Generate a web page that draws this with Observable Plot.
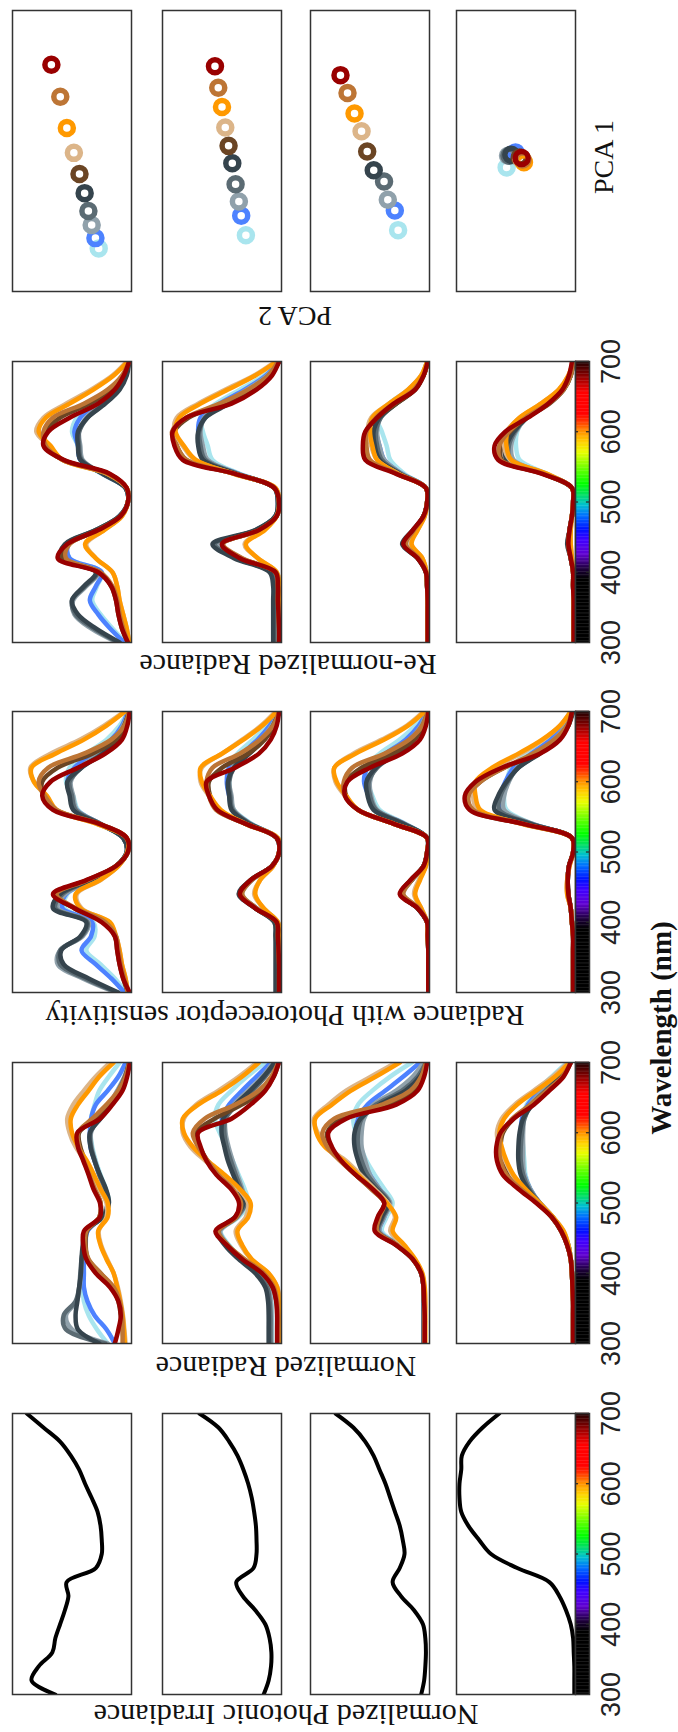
<!DOCTYPE html>
<html>
<head>
<meta charset="utf-8">
<script src="https://cdn.jsdelivr.net/npm/d3@7"></script>
<script src="https://cdn.jsdelivr.net/npm/@observablehq/plot@0.6"></script>
<style>
  body { margin: 0; background: #fff; }
  #fig { position: relative; width: 678px; height: 1732px; background: #fff; overflow: hidden; }
  .lab { position: absolute; white-space: nowrap; font-family: "Liberation Serif", "Times New Roman", serif; color: #111; line-height: 1; }
</style>
</head>
<body>
<div id="fig"></div>
<script>
// ---------- data ----------
const wavelengths = [300,320,340,360,380,400,420,440,460,480,500,520,540,560,580,600,620,640,660,680,700];
const wavelengthTicks = [300,400,500,600,700];
const colorbarTicks = [400,500,600];

const seriesKeys = ["darkRed","brown","orange","tan","darkBrown","darkSlate","slate","lightSlate","blue","lightCyan"];

// normalized photonic irradiance, one curve per habitat
const irradiance1 = [0.64,0.84,0.78,0.665,0.64,0.60,0.56,0.53,0.545,0.30,0.25,0.25,0.26,0.285,0.335,0.39,0.44,0.51,0.60,0.74,0.88];
const irradiance2 = [0.15,0.108,0.088,0.085,0.10,0.136,0.22,0.325,0.38,0.235,0.21,0.21,0.215,0.23,0.25,0.28,0.32,0.37,0.44,0.53,0.69];
const irradiance3 = [0.07,0.045,0.035,0.03,0.035,0.055,0.13,0.24,0.31,0.25,0.21,0.225,0.25,0.29,0.33,0.37,0.42,0.47,0.54,0.64,0.79];
const irradiance4 = [0.01,0.01,0.01,0.015,0.02,0.04,0.08,0.135,0.22,0.49,0.71,0.81,0.90,0.96,0.975,0.975,0.96,0.955,0.89,0.78,0.64];

// normalized radiance
const radiance1 = {
  darkRed:   [0.14,0.11,0.09,0.11,0.18,0.30,0.38,0.405,0.40,0.265,0.265,0.32,0.36,0.405,0.45,0.455,0.265,0.16,0.075,0.036,0.014],
  brown:     [0.075,0.075,0.08,0.10,0.15,0.26,0.36,0.39,0.38,0.27,0.26,0.31,0.355,0.40,0.44,0.45,0.33,0.21,0.11,0.05,0.02],
  orange:    [0.056,0.064,0.075,0.095,0.12,0.15,0.21,0.26,0.28,0.20,0.20,0.26,0.315,0.375,0.45,0.50,0.51,0.45,0.36,0.27,0.15],
  tan:       [0.05,0.06,0.072,0.09,0.115,0.15,0.205,0.255,0.275,0.21,0.21,0.27,0.33,0.39,0.47,0.52,0.54,0.49,0.40,0.30,0.18],
  darkBrown: [0.065,0.075,0.09,0.11,0.16,0.26,0.365,0.385,0.375,0.27,0.26,0.31,0.35,0.39,0.43,0.44,0.30,0.19,0.10,0.045,0.015],
  darkSlate: [0.27,0.45,0.47,0.455,0.44,0.425,0.42,0.41,0.39,0.24,0.19,0.215,0.265,0.31,0.345,0.35,0.26,0.17,0.10,0.05,0.02],
  slate:     [0.22,0.55,0.57,0.47,0.44,0.43,0.42,0.40,0.385,0.245,0.195,0.22,0.27,0.31,0.34,0.345,0.27,0.18,0.11,0.055,0.02],
  lightSlate:[0.20,0.50,0.55,0.46,0.435,0.425,0.415,0.395,0.38,0.25,0.20,0.225,0.27,0.305,0.335,0.34,0.28,0.19,0.12,0.06,0.02],
  blue:      [0.14,0.21,0.31,0.37,0.40,0.40,0.40,0.39,0.37,0.25,0.20,0.225,0.27,0.31,0.345,0.35,0.34,0.30,0.20,0.11,0.05],
  lightCyan: [0.20,0.29,0.36,0.40,0.41,0.41,0.40,0.385,0.37,0.25,0.19,0.215,0.26,0.30,0.33,0.345,0.34,0.31,0.27,0.19,0.10]
};
const radiance2 = {
  darkRed:   [0.037,0.037,0.037,0.045,0.074,0.164,0.33,0.46,0.555,0.39,0.357,0.425,0.547,0.63,0.68,0.70,0.42,0.26,0.136,0.065,0.023],
  brown:     [0.028,0.028,0.028,0.037,0.065,0.15,0.31,0.45,0.53,0.377,0.34,0.41,0.53,0.62,0.70,0.745,0.646,0.39,0.19,0.085,0.028],
  orange:    [0.017,0.017,0.017,0.023,0.037,0.108,0.25,0.33,0.37,0.28,0.26,0.35,0.476,0.62,0.745,0.82,0.83,0.70,0.50,0.33,0.19],
  tan:       [0.01,0.01,0.01,0.017,0.034,0.113,0.255,0.34,0.385,0.30,0.28,0.36,0.50,0.64,0.765,0.83,0.82,0.717,0.53,0.357,0.207],
  darkBrown: [0.034,0.034,0.034,0.042,0.074,0.159,0.32,0.453,0.538,0.385,0.348,0.419,0.538,0.623,0.686,0.717,0.561,0.334,0.15,0.065,0.023],
  darkSlate: [0.108,0.108,0.108,0.113,0.136,0.22,0.36,0.476,0.54,0.39,0.32,0.357,0.405,0.45,0.48,0.504,0.49,0.39,0.263,0.15,0.057],
  slate:     [0.093,0.093,0.093,0.10,0.12,0.207,0.35,0.46,0.527,0.377,0.306,0.34,0.385,0.425,0.46,0.48,0.47,0.377,0.244,0.136,0.051],
  lightSlate:[0.085,0.085,0.085,0.09,0.11,0.195,0.34,0.45,0.515,0.37,0.30,0.33,0.37,0.41,0.445,0.47,0.47,0.40,0.28,0.16,0.07],
  blue:      [0.09,0.09,0.09,0.095,0.115,0.20,0.345,0.455,0.52,0.375,0.305,0.335,0.38,0.425,0.47,0.50,0.50,0.44,0.33,0.21,0.09],
  lightCyan: [0.08,0.08,0.08,0.085,0.105,0.19,0.33,0.44,0.51,0.36,0.28,0.31,0.36,0.41,0.46,0.52,0.56,0.53,0.42,0.29,0.14]
};
const radiance3 = {
  darkRed:   [0.04,0.04,0.04,0.045,0.05,0.07,0.14,0.28,0.46,0.435,0.38,0.48,0.62,0.74,0.82,0.85,0.70,0.28,0.10,0.045,0.02],
  brown:     [0.04,0.04,0.04,0.045,0.05,0.07,0.14,0.27,0.44,0.42,0.38,0.49,0.62,0.75,0.86,0.90,0.80,0.40,0.16,0.07,0.03],
  orange:    [0.035,0.035,0.035,0.035,0.04,0.06,0.12,0.21,0.31,0.28,0.36,0.48,0.60,0.72,0.88,0.95,0.96,0.82,0.66,0.45,0.25],
  tan:       [0.04,0.04,0.04,0.04,0.045,0.065,0.13,0.22,0.33,0.29,0.35,0.46,0.58,0.70,0.86,0.94,0.97,0.85,0.70,0.49,0.28],
  darkBrown: [0.04,0.04,0.04,0.045,0.05,0.07,0.14,0.28,0.45,0.43,0.38,0.49,0.62,0.74,0.83,0.86,0.74,0.34,0.14,0.06,0.03],
  darkSlate: [0.045,0.045,0.045,0.045,0.05,0.07,0.14,0.27,0.44,0.40,0.35,0.45,0.55,0.60,0.63,0.63,0.58,0.42,0.20,0.08,0.02],
  slate:     [0.05,0.05,0.05,0.05,0.05,0.07,0.14,0.27,0.43,0.39,0.34,0.43,0.52,0.57,0.60,0.60,0.57,0.45,0.23,0.10,0.03],
  lightSlate:[0.05,0.05,0.05,0.05,0.05,0.07,0.13,0.26,0.42,0.38,0.33,0.42,0.50,0.54,0.57,0.57,0.55,0.47,0.28,0.14,0.05],
  blue:      [0.05,0.05,0.05,0.05,0.05,0.07,0.13,0.26,0.42,0.38,0.34,0.42,0.50,0.56,0.60,0.62,0.60,0.52,0.37,0.22,0.08],
  lightCyan: [0.05,0.05,0.05,0.05,0.05,0.07,0.13,0.25,0.40,0.36,0.31,0.38,0.46,0.53,0.58,0.62,0.64,0.60,0.48,0.33,0.15]
};
const radiance4 = {
  darkRed:   [0.02,0.02,0.02,0.02,0.025,0.03,0.04,0.07,0.12,0.20,0.33,0.48,0.61,0.66,0.665,0.63,0.52,0.35,0.22,0.10,0.04],
  brown:     [0.02,0.02,0.02,0.02,0.025,0.03,0.04,0.07,0.12,0.20,0.32,0.46,0.58,0.63,0.64,0.62,0.53,0.38,0.24,0.11,0.04],
  orange:    [0.02,0.02,0.02,0.02,0.025,0.03,0.04,0.06,0.10,0.19,0.30,0.42,0.52,0.58,0.62,0.64,0.60,0.49,0.33,0.17,0.05],
  tan:       [0.02,0.02,0.02,0.02,0.025,0.03,0.04,0.06,0.10,0.19,0.31,0.43,0.53,0.59,0.64,0.66,0.62,0.51,0.35,0.19,0.06],
  darkBrown: [0.02,0.02,0.02,0.02,0.025,0.03,0.04,0.07,0.12,0.20,0.32,0.46,0.57,0.62,0.63,0.61,0.52,0.37,0.23,0.11,0.04],
  darkSlate: [0.02,0.02,0.02,0.02,0.025,0.03,0.04,0.07,0.12,0.20,0.31,0.40,0.46,0.48,0.48,0.47,0.44,0.36,0.24,0.12,0.04],
  slate:     [0.02,0.02,0.02,0.02,0.025,0.03,0.04,0.06,0.11,0.19,0.30,0.39,0.44,0.46,0.46,0.45,0.43,0.37,0.25,0.13,0.04],
  lightSlate:[0.02,0.02,0.02,0.02,0.025,0.03,0.04,0.06,0.11,0.19,0.30,0.38,0.43,0.44,0.44,0.44,0.43,0.38,0.27,0.15,0.05],
  blue:      [0.02,0.02,0.02,0.02,0.025,0.03,0.04,0.06,0.11,0.19,0.30,0.38,0.43,0.45,0.46,0.46,0.45,0.40,0.30,0.18,0.06],
  lightCyan: [0.02,0.02,0.02,0.02,0.025,0.03,0.04,0.06,0.11,0.20,0.31,0.38,0.42,0.43,0.44,0.45,0.45,0.41,0.32,0.20,0.07]
};

// radiance weighted by photoreceptor sensitivity
const receptor1 = {
  darkRed:   [0.015,0.07,0.10,0.12,0.14,0.25,0.48,0.66,0.38,0.13,0.03,0.04,0.27,0.66,0.75,0.68,0.45,0.22,0.08,0.035,0.015],
  brown:     [0.03,0.06,0.09,0.11,0.13,0.22,0.47,0.63,0.37,0.13,0.03,0.04,0.27,0.63,0.73,0.78,0.70,0.40,0.17,0.06,0.02],
  orange:    [0.03,0.05,0.08,0.10,0.13,0.18,0.43,0.47,0.265,0.11,0.035,0.04,0.29,0.63,0.71,0.82,0.84,0.64,0.40,0.21,0.055],
  tan:       [0.03,0.05,0.08,0.10,0.13,0.19,0.42,0.46,0.26,0.11,0.035,0.04,0.29,0.64,0.72,0.82,0.85,0.68,0.43,0.23,0.06],
  darkBrown: [0.03,0.07,0.10,0.12,0.14,0.23,0.48,0.64,0.37,0.13,0.03,0.04,0.27,0.64,0.74,0.75,0.62,0.33,0.13,0.05,0.02],
  darkSlate: [0.11,0.36,0.57,0.59,0.43,0.38,0.66,0.60,0.35,0.13,0.04,0.07,0.27,0.49,0.52,0.54,0.42,0.24,0.12,0.06,0.02],
  slate:     [0.12,0.39,0.60,0.60,0.42,0.37,0.64,0.58,0.34,0.13,0.04,0.07,0.26,0.47,0.50,0.52,0.42,0.25,0.13,0.06,0.02],
  lightSlate:[0.13,0.41,0.62,0.60,0.41,0.36,0.62,0.56,0.33,0.12,0.04,0.07,0.26,0.46,0.49,0.51,0.43,0.27,0.14,0.07,0.02],
  blue:      [0.06,0.17,0.30,0.42,0.34,0.33,0.58,0.55,0.33,0.12,0.04,0.07,0.26,0.46,0.50,0.54,0.48,0.32,0.17,0.08,0.03],
  lightCyan: [0.05,0.14,0.26,0.38,0.31,0.32,0.56,0.54,0.33,0.12,0.04,0.07,0.27,0.45,0.49,0.55,0.52,0.38,0.21,0.10,0.03]
};
const receptor2 = {
  darkRed:   [0.02,0.02,0.02,0.025,0.03,0.04,0.22,0.35,0.26,0.08,0.02,0.04,0.30,0.54,0.61,0.63,0.39,0.19,0.09,0.04,0.02],
  brown:     [0.02,0.02,0.02,0.025,0.03,0.04,0.21,0.33,0.25,0.08,0.02,0.04,0.30,0.55,0.61,0.63,0.58,0.35,0.18,0.07,0.02],
  orange:    [0.015,0.015,0.015,0.015,0.02,0.03,0.15,0.22,0.18,0.07,0.02,0.03,0.30,0.51,0.60,0.67,0.68,0.50,0.32,0.16,0.04],
  tan:       [0.015,0.015,0.015,0.015,0.02,0.03,0.15,0.23,0.18,0.07,0.02,0.03,0.30,0.52,0.61,0.68,0.67,0.50,0.33,0.17,0.05],
  darkBrown: [0.02,0.02,0.02,0.025,0.03,0.04,0.22,0.34,0.26,0.08,0.02,0.04,0.30,0.54,0.60,0.61,0.50,0.28,0.14,0.06,0.02],
  darkSlate: [0.05,0.05,0.05,0.05,0.05,0.06,0.22,0.36,0.26,0.08,0.02,0.04,0.27,0.42,0.44,0.45,0.40,0.27,0.15,0.07,0.02],
  slate:     [0.045,0.045,0.045,0.045,0.05,0.06,0.22,0.35,0.26,0.08,0.02,0.04,0.26,0.41,0.43,0.44,0.40,0.28,0.16,0.07,0.02],
  lightSlate:[0.04,0.04,0.04,0.04,0.045,0.055,0.21,0.34,0.25,0.08,0.02,0.04,0.26,0.40,0.42,0.44,0.41,0.30,0.17,0.08,0.02],
  blue:      [0.04,0.04,0.04,0.04,0.045,0.055,0.21,0.34,0.25,0.08,0.02,0.04,0.26,0.41,0.44,0.46,0.44,0.33,0.20,0.10,0.03],
  lightCyan: [0.04,0.04,0.04,0.04,0.045,0.055,0.21,0.33,0.25,0.08,0.02,0.04,0.25,0.40,0.43,0.44,0.45,0.37,0.24,0.12,0.04]
};
const receptor3 = {
  darkRed:   [0.01,0.01,0.01,0.01,0.015,0.02,0.10,0.25,0.16,0.05,0.02,0.02,0.30,0.60,0.71,0.69,0.50,0.23,0.08,0.03,0.01],
  brown:     [0.01,0.01,0.01,0.01,0.015,0.02,0.09,0.22,0.15,0.05,0.02,0.02,0.30,0.60,0.71,0.72,0.65,0.38,0.17,0.06,0.015],
  orange:    [0.01,0.01,0.01,0.01,0.015,0.02,0.07,0.12,0.08,0.03,0.02,0.02,0.30,0.60,0.70,0.78,0.80,0.62,0.38,0.18,0.04],
  tan:       [0.01,0.01,0.01,0.01,0.015,0.02,0.07,0.13,0.09,0.03,0.02,0.02,0.30,0.60,0.71,0.79,0.80,0.64,0.40,0.19,0.05],
  darkBrown: [0.01,0.01,0.01,0.01,0.015,0.02,0.10,0.24,0.16,0.05,0.02,0.02,0.30,0.60,0.70,0.70,0.57,0.31,0.13,0.05,0.015],
  darkSlate: [0.01,0.01,0.01,0.01,0.015,0.02,0.10,0.24,0.15,0.05,0.02,0.02,0.22,0.47,0.52,0.53,0.45,0.28,0.13,0.05,0.01],
  slate:     [0.01,0.01,0.01,0.01,0.015,0.02,0.10,0.23,0.15,0.05,0.02,0.02,0.21,0.45,0.50,0.51,0.44,0.28,0.14,0.06,0.015],
  lightSlate:[0.01,0.01,0.01,0.01,0.015,0.02,0.10,0.23,0.15,0.05,0.02,0.02,0.21,0.44,0.49,0.50,0.45,0.30,0.16,0.07,0.02],
  blue:      [0.01,0.01,0.01,0.01,0.015,0.02,0.10,0.23,0.15,0.05,0.02,0.02,0.21,0.45,0.51,0.55,0.52,0.37,0.20,0.09,0.02],
  lightCyan: [0.01,0.01,0.01,0.01,0.015,0.02,0.09,0.22,0.15,0.05,0.02,0.02,0.20,0.42,0.48,0.52,0.53,0.42,0.25,0.12,0.03]
};
const receptor4 = {
  darkRed:   [0.02,0.02,0.02,0.02,0.02,0.03,0.04,0.06,0.065,0.055,0.02,0.03,0.44,0.89,0.93,0.84,0.62,0.30,0.13,0.06,0.03],
  brown:     [0.02,0.02,0.02,0.02,0.02,0.03,0.04,0.06,0.065,0.055,0.02,0.03,0.44,0.86,0.90,0.80,0.60,0.36,0.18,0.07,0.03],
  orange:    [0.02,0.02,0.02,0.02,0.02,0.03,0.04,0.07,0.07,0.05,0.02,0.03,0.45,0.80,0.84,0.84,0.70,0.48,0.28,0.13,0.04],
  tan:       [0.02,0.02,0.02,0.02,0.02,0.03,0.04,0.07,0.07,0.05,0.02,0.03,0.45,0.82,0.86,0.82,0.68,0.46,0.27,0.13,0.04],
  darkBrown: [0.02,0.02,0.02,0.02,0.02,0.03,0.04,0.06,0.065,0.055,0.02,0.03,0.44,0.87,0.90,0.80,0.60,0.33,0.15,0.06,0.03],
  darkSlate: [0.02,0.02,0.02,0.02,0.02,0.03,0.04,0.06,0.065,0.055,0.02,0.03,0.38,0.68,0.65,0.58,0.48,0.30,0.15,0.06,0.02],
  slate:     [0.02,0.02,0.02,0.02,0.02,0.03,0.04,0.06,0.065,0.055,0.02,0.03,0.37,0.64,0.63,0.57,0.48,0.31,0.16,0.07,0.02],
  lightSlate:[0.02,0.02,0.02,0.02,0.02,0.03,0.04,0.06,0.065,0.055,0.02,0.03,0.36,0.60,0.60,0.56,0.49,0.33,0.18,0.08,0.02],
  blue:      [0.02,0.02,0.02,0.02,0.02,0.03,0.04,0.06,0.065,0.055,0.02,0.03,0.37,0.63,0.63,0.59,0.52,0.37,0.21,0.10,0.03],
  lightCyan: [0.02,0.02,0.02,0.02,0.02,0.03,0.04,0.06,0.065,0.055,0.02,0.03,0.36,0.58,0.60,0.58,0.54,0.41,0.25,0.12,0.03]
};

// re-normalized radiance
const renorm1 = {
  darkRed:   [0.03,0.08,0.11,0.13,0.17,0.28,0.62,0.54,0.28,0.09,0.03,0.04,0.18,0.57,0.74,0.70,0.52,0.28,0.14,0.065,0.02],
  brown:     [0.03,0.07,0.10,0.12,0.16,0.26,0.55,0.52,0.28,0.09,0.03,0.04,0.19,0.58,0.72,0.74,0.66,0.40,0.20,0.08,0.02],
  orange:    [0.02,0.04,0.07,0.10,0.12,0.16,0.30,0.39,0.23,0.08,0.03,0.04,0.20,0.58,0.68,0.78,0.72,0.52,0.32,0.15,0.03],
  tan:       [0.02,0.04,0.07,0.10,0.12,0.16,0.30,0.38,0.23,0.08,0.03,0.04,0.20,0.58,0.69,0.80,0.74,0.55,0.34,0.16,0.04],
  darkBrown: [0.03,0.08,0.11,0.13,0.17,0.27,0.58,0.53,0.28,0.09,0.03,0.04,0.19,0.58,0.72,0.72,0.60,0.35,0.17,0.07,0.02],
  darkSlate: [0.10,0.30,0.45,0.50,0.40,0.30,0.60,0.56,0.30,0.10,0.03,0.05,0.24,0.43,0.45,0.45,0.37,0.22,0.10,0.04,0.02],
  slate:     [0.11,0.32,0.47,0.50,0.39,0.29,0.58,0.55,0.30,0.10,0.03,0.05,0.24,0.42,0.44,0.44,0.37,0.23,0.11,0.05,0.02],
  lightSlate:[0.12,0.34,0.48,0.49,0.38,0.28,0.56,0.54,0.30,0.10,0.03,0.05,0.24,0.41,0.43,0.44,0.38,0.24,0.12,0.05,0.02],
  blue:      [0.06,0.18,0.28,0.35,0.30,0.25,0.52,0.53,0.29,0.10,0.03,0.05,0.24,0.43,0.45,0.48,0.43,0.30,0.15,0.06,0.02],
  lightCyan: [0.05,0.16,0.26,0.33,0.29,0.25,0.52,0.53,0.29,0.10,0.03,0.05,0.25,0.43,0.45,0.50,0.46,0.34,0.18,0.07,0.02]
};
const renorm2 = {
  darkRed:   [0.02,0.02,0.025,0.03,0.03,0.05,0.35,0.50,0.19,0.04,0.02,0.06,0.39,0.83,0.90,0.915,0.80,0.42,0.21,0.08,0.02],
  brown:     [0.02,0.02,0.025,0.03,0.03,0.05,0.33,0.49,0.19,0.04,0.02,0.06,0.39,0.80,0.88,0.92,0.80,0.52,0.28,0.11,0.03],
  orange:    [0.015,0.015,0.015,0.02,0.02,0.04,0.20,0.30,0.14,0.04,0.02,0.05,0.40,0.72,0.82,0.89,0.86,0.68,0.45,0.22,0.04],
  tan:       [0.015,0.015,0.015,0.02,0.02,0.04,0.20,0.31,0.15,0.04,0.02,0.05,0.40,0.73,0.83,0.90,0.88,0.70,0.47,0.23,0.05],
  darkBrown: [0.02,0.02,0.025,0.03,0.03,0.05,0.34,0.50,0.19,0.04,0.02,0.06,0.39,0.80,0.88,0.90,0.78,0.48,0.25,0.10,0.02],
  darkSlate: [0.07,0.07,0.07,0.07,0.07,0.10,0.40,0.58,0.22,0.05,0.03,0.06,0.38,0.66,0.70,0.70,0.64,0.44,0.25,0.10,0.02],
  slate:     [0.06,0.06,0.06,0.06,0.065,0.09,0.38,0.56,0.21,0.05,0.03,0.06,0.37,0.64,0.68,0.69,0.64,0.46,0.27,0.11,0.02],
  lightSlate:[0.055,0.055,0.055,0.055,0.06,0.085,0.36,0.54,0.21,0.05,0.03,0.06,0.36,0.62,0.66,0.68,0.65,0.48,0.29,0.12,0.03],
  blue:      [0.055,0.055,0.055,0.055,0.06,0.085,0.36,0.54,0.21,0.05,0.03,0.06,0.36,0.63,0.67,0.70,0.68,0.52,0.31,0.13,0.03],
  lightCyan: [0.05,0.05,0.05,0.05,0.055,0.08,0.35,0.53,0.21,0.05,0.03,0.06,0.35,0.58,0.62,0.66,0.68,0.55,0.35,0.15,0.04]
};
const renorm3 = {
  darkRed:   [0.015,0.015,0.015,0.015,0.02,0.03,0.10,0.22,0.14,0.05,0.02,0.03,0.28,0.54,0.56,0.54,0.44,0.30,0.12,0.05,0.015],
  brown:     [0.015,0.015,0.015,0.015,0.02,0.03,0.09,0.20,0.13,0.05,0.02,0.03,0.27,0.50,0.53,0.53,0.45,0.30,0.13,0.05,0.015],
  orange:    [0.015,0.015,0.015,0.015,0.02,0.025,0.06,0.15,0.10,0.04,0.02,0.03,0.26,0.44,0.48,0.50,0.48,0.34,0.18,0.07,0.02],
  tan:       [0.015,0.015,0.015,0.015,0.02,0.025,0.06,0.16,0.10,0.04,0.02,0.03,0.26,0.44,0.49,0.52,0.49,0.34,0.18,0.07,0.02],
  darkBrown: [0.015,0.015,0.015,0.015,0.02,0.03,0.10,0.21,0.13,0.05,0.02,0.03,0.27,0.51,0.54,0.53,0.44,0.28,0.12,0.05,0.015],
  darkSlate: [0.015,0.015,0.015,0.015,0.02,0.03,0.10,0.23,0.14,0.05,0.02,0.03,0.25,0.42,0.46,0.47,0.42,0.28,0.12,0.05,0.015],
  slate:     [0.015,0.015,0.015,0.015,0.02,0.03,0.10,0.22,0.13,0.05,0.02,0.03,0.24,0.40,0.44,0.45,0.41,0.28,0.13,0.05,0.015],
  lightSlate:[0.015,0.015,0.015,0.015,0.02,0.03,0.09,0.21,0.13,0.05,0.02,0.03,0.23,0.38,0.42,0.44,0.41,0.29,0.14,0.06,0.02],
  blue:      [0.015,0.015,0.015,0.015,0.02,0.03,0.09,0.20,0.13,0.05,0.02,0.03,0.23,0.38,0.42,0.45,0.44,0.32,0.16,0.06,0.02],
  lightCyan: [0.015,0.015,0.015,0.015,0.02,0.03,0.09,0.19,0.12,0.05,0.02,0.03,0.21,0.33,0.36,0.40,0.44,0.34,0.18,0.07,0.02]
};
const renorm4 = {
  darkRed:   [0.015,0.015,0.015,0.015,0.02,0.02,0.04,0.06,0.05,0.03,0.02,0.03,0.28,0.65,0.68,0.59,0.40,0.23,0.11,0.055,0.03],
  brown:     [0.015,0.015,0.015,0.015,0.02,0.02,0.04,0.06,0.05,0.03,0.02,0.03,0.27,0.63,0.64,0.56,0.42,0.23,0.10,0.04,0.02],
  orange:    [0.015,0.015,0.015,0.015,0.02,0.02,0.03,0.04,0.04,0.03,0.02,0.03,0.24,0.54,0.58,0.57,0.47,0.29,0.14,0.06,0.02],
  tan:       [0.015,0.015,0.015,0.015,0.02,0.02,0.03,0.04,0.04,0.03,0.02,0.03,0.24,0.55,0.60,0.58,0.47,0.29,0.14,0.06,0.02],
  darkBrown: [0.015,0.015,0.015,0.015,0.02,0.02,0.04,0.06,0.05,0.03,0.02,0.03,0.27,0.62,0.62,0.55,0.41,0.22,0.10,0.04,0.02],
  darkSlate: [0.015,0.015,0.015,0.015,0.02,0.02,0.04,0.07,0.05,0.03,0.02,0.03,0.26,0.58,0.58,0.52,0.41,0.23,0.10,0.04,0.02],
  slate:     [0.015,0.015,0.015,0.015,0.02,0.02,0.04,0.06,0.05,0.03,0.02,0.03,0.26,0.55,0.56,0.51,0.41,0.24,0.11,0.05,0.02],
  lightSlate:[0.015,0.015,0.015,0.015,0.02,0.02,0.04,0.06,0.05,0.03,0.02,0.03,0.25,0.52,0.54,0.50,0.41,0.25,0.12,0.05,0.02],
  blue:      [0.015,0.015,0.015,0.015,0.02,0.02,0.04,0.06,0.05,0.03,0.02,0.03,0.25,0.54,0.56,0.52,0.43,0.26,0.12,0.05,0.02],
  lightCyan: [0.015,0.015,0.015,0.015,0.02,0.02,0.04,0.06,0.05,0.03,0.02,0.03,0.24,0.47,0.50,0.49,0.43,0.28,0.13,0.05,0.02]
};

// principal component scores, same order as seriesKeys
const pcaScores1 = { pc1: [1.84,1.16,0.49,-0.04,-0.49,-0.90,-1.28,-1.58,-1.86,-2.08], pc2: [0.44,0.25,0.11,-0.04,-0.16,-0.27,-0.35,-0.42,-0.50,-0.57] };
const pcaScores2 = { pc1: [1.81,1.35,0.94,0.50,0.11,-0.26,-0.71,-1.08,-1.38,-1.80], pc2: [0.15,0.08,0.00,-0.07,-0.14,-0.22,-0.29,-0.36,-0.41,-0.51] };
const pcaScores3 = { pc1: [1.62,1.24,0.80,0.42,-0.01,-0.41,-0.65,-1.04,-1.27,-1.69], pc2: [0.63,0.48,0.33,0.18,0.06,-0.08,-0.30,-0.38,-0.53,-0.60] };
const pcaScores4 = { pc1: [-0.15,-0.18,-0.24,-0.18,-0.14,-0.08,-0.10,-0.10,-0.03,-0.35], pc2: [-0.12,-0.14,-0.17,-0.12,-0.08,0.10,0.14,0.17,0.01,0.20] };

// ---------- styling ----------
const seriesColors = {
  darkRed: "#990000", brown: "#bd7535", orange: "#ff9900", tan: "#dcb589", darkBrown: "#6b4524",
  darkSlate: "#35444d", slate: "#5b6b73", lightSlate: "#90a1ab", blue: "#4d82ff", lightCyan: "#a9e5ee"
};
const drawOrder = ["lightCyan","blue","lightSlate","slate","darkSlate","darkBrown","tan","orange","brown","darkRed"];

const spectrumStops = [
  [300,"#000000"],[390,"#000000"],[405,"#200040"],[425,"#6000d0"],[445,"#4000ff"],[460,"#0010ff"],
  [480,"#0070ff"],[495,"#00c0d0"],[510,"#00e060"],[525,"#00ff00"],[545,"#60ff00"],[570,"#e8ff00"],
  [585,"#ffd000"],[600,"#ff9000"],[615,"#ff3000"],[625,"#ff0000"],[655,"#ff0000"],[675,"#a00000"],[700,"#1a0000"]
];
const spectrum = d3.scaleLinear()
  .domain(spectrumStops.map(d => d[0]))
  .range(spectrumStops.map(d => d[1]))
  .interpolate(d3.interpolateRgb);

const panelLeft = [12, 161.5, 310, 456];
const panelW = 119, panelH = 281;
const bandTop = { pca: 10, renorm: 361, receptor: 711, radiance: 1062, irradiance: 1413 };
const barW = 14;

const fig = document.getElementById("fig");
const baseStyle = { overflow: "visible", background: "transparent" };

function place(node, left, top) {
  node.style.position = "absolute";
  node.style.left = left + "px";
  node.style.top = top + "px";
  fig.appendChild(node);
}

function rows(values) {
  return wavelengths.map((wl, i) => ({ wl, v: values[i] }));
}

function curvePanel(curves, left, top) {
  const marks = curves.map(c => Plot.line(rows(c.values), {
    x: "v", y: "wl", stroke: c.color, strokeWidth: c.width,
    curve: "catmull-rom", clip: true
  }));
  marks.push(Plot.frame({ stroke: "#333", strokeWidth: 1.5 }));
  const svg = Plot.plot({
    width: panelW, height: panelH, margin: 0,
    x: { domain: [1, 0], axis: null },
    y: { domain: [300, 700], axis: null },
    style: baseStyle,
    marks
  });
  place(svg, left, top);
}

function colorbar(left, top) {
  const cells = d3.range(300, 700, 2).map(w => ({ w0: w, w1: w + 2.5, c: spectrum(w + 1) }));
  const svg = Plot.plot({
    width: barW, height: panelH, margin: 0,
    x: { domain: [0, 1], axis: null },
    y: { domain: [300, 700], axis: null },
    color: { type: "identity" },
    style: baseStyle,
    marks: [
      Plot.rect(cells, { x1: () => 0, x2: () => 1, y1: "w0", y2: "w1", fill: "c" }),
      Plot.ruleY(colorbarTicks, { x1: () => 0, x2: () => 0.22, stroke: "#222", strokeWidth: 1.2 }),
      Plot.ruleY(colorbarTicks, { x1: () => 0.78, x2: () => 1, stroke: "#222", strokeWidth: 1.2 }),
      Plot.text(wavelengthTicks, {
        y: d => d, x: () => 1, dx: 22, rotate: -90, text: d => String(d),
        fontSize: 27, fontFamily: "Liberation Sans, Arial, sans-serif", fill: "#222",
        textAnchor: "middle", lineAnchor: "middle"
      }),
      Plot.frame({ stroke: "#333", strokeWidth: 1.5 })
    ]
  });
  place(svg, left, top);
}

function pcaPanel(scores, left, top) {
  const pts = drawOrder.map(k => {
    const i = seriesKeys.indexOf(k);
    return { pc1: scores.pc1[i], pc2: scores.pc2[i], color: seriesColors[k] };
  });
  const svg = Plot.plot({
    width: panelW, height: panelH, margin: 0,
    x: { domain: [1.27, -1.27], axis: null },
    y: { domain: [-3, 3], axis: null },
    color: { type: "identity" },
    style: baseStyle,
    marks: [
      Plot.dot(pts, { x: "pc2", y: "pc1", r: 6.5, stroke: "color", strokeWidth: 5.5, fill: "none" }),
      Plot.frame({ stroke: "#333", strokeWidth: 1.5 })
    ]
  });
  place(svg, left, top);
}

function colouredCurves(panel) {
  return drawOrder.map(k => ({ values: panel[k], color: seriesColors[k], width: 4.5 }));
}

function label(text, cx, cy, size, rotate, bold) {
  const d = document.createElement("div");
  d.className = "lab";
  d.textContent = text;
  d.style.fontSize = size + "px";
  if (bold) d.style.fontWeight = "bold";
  d.style.left = cx + "px";
  d.style.top = cy + "px";
  d.style.transform = `translate(-50%, -50%) rotate(${rotate}deg)`;
  fig.appendChild(d);
}

// ---------- panels ----------
[pcaScores1, pcaScores2, pcaScores3, pcaScores4].forEach((s, i) => pcaPanel(s, panelLeft[i], bandTop.pca));

[renorm1, renorm2, renorm3, renorm4].forEach((p, i) => curvePanel(colouredCurves(p), panelLeft[i], bandTop.renorm));
[receptor1, receptor2, receptor3, receptor4].forEach((p, i) => curvePanel(colouredCurves(p), panelLeft[i], bandTop.receptor));
[radiance1, radiance2, radiance3, radiance4].forEach((p, i) => curvePanel(colouredCurves(p), panelLeft[i], bandTop.radiance));
[irradiance1, irradiance2, irradiance3, irradiance4].forEach((v, i) =>
  curvePanel([{ values: v, color: "#000", width: 4 }], panelLeft[i], bandTop.irradiance));

[bandTop.renorm, bandTop.receptor, bandTop.radiance, bandTop.irradiance]
  .forEach(t => colorbar(panelLeft[3] + panelW, t));

// ---------- labels ----------
label("PCA 2", 295, 316, 28, 180);
label("PCA 1", 604, 157, 28, -90);
label("Re-normalized Radiance", 288, 665, 30, 180);
label("Radiance with Photoreceptor sensitivity", 285, 1016, 30, 180);
label("Normalized Radiance", 285.5, 1367, 30, 180);
label("Normalized Photonic Irradiance", 286, 1715, 30, 180);
label("Wavelength (nm)", 661, 1028, 29, -90, true);
</script>
</body>
</html>
